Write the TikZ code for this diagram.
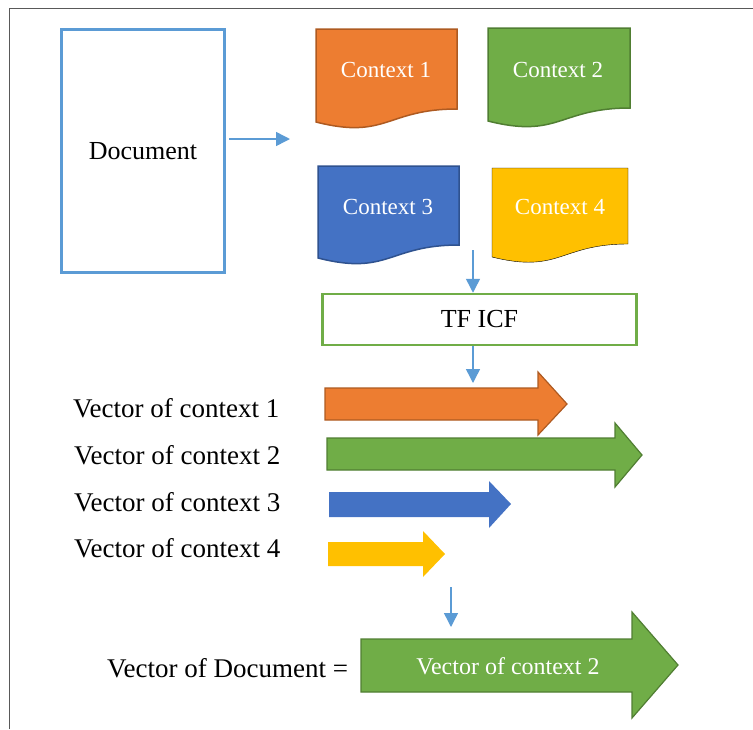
\documentclass[tikz,border=0pt]{standalone}
\usepackage{fontspec}
\setmainfont{Liberation Serif}
\usetikzlibrary{arrows.meta}
\definecolor{flowblue}{HTML}{5B9BD5}
\definecolor{orangefill}{HTML}{ED7D31}
\definecolor{orangeline}{HTML}{AE5A21}
\definecolor{greenfill}{HTML}{70AD47}
\definecolor{greenline}{HTML}{507E32}
\definecolor{bluefill}{HTML}{4472C4}
\definecolor{blueline}{HTML}{2F528F}
\definecolor{goldfill}{HTML}{FFC000}

\begin{document}
\begin{tikzpicture}[x=1pt,y=-1pt,
	blacktext/.style={inner sep=0pt,font=\fontsize{27}{31}\selectfont},
	whitetext/.style={inner sep=0pt,text=white,font=\fontsize{23}{27}\selectfont},
	flow/.style={draw=flowblue,line width=1.5pt,-{Triangle[length=14pt,width=14pt]}},
	orangeshape/.style={fill=orangefill,draw=orangeline,line width=1.5pt},
	greenshape/.style={fill=greenfill,draw=greenline,line width=1.5pt},
	blueshape/.style={fill=bluefill,draw=blueline,line width=1.5pt},
	goldshape/.style={fill=goldfill},
	vecgreen/.style={fill=greenfill,draw=greenline,line width=1.2pt},
	vecorange/.style={fill=orangefill,draw=orangeline,line width=1.2pt}]
\useasboundingbox (0,0) rectangle (753,729);
\draw[black!65,line width=0.8pt] (9,729) -- (9,8) -- (753,8);

\node[draw=flowblue,line width=3pt,minimum width=163pt,minimum height=243pt,
	font=\fontsize{26}{30}\selectfont] (doc) at (143,151) {Document};

\draw[orangeshape] (316,29) -- (457,29) -- (457,109)
	.. controls (386.5,109) and (386.5,140) .. (316,122) -- cycle;
\draw[greenshape] (488,28) -- (630,28) -- (630,108)
	.. controls (559,108) and (559,139) .. (488,121) -- cycle;
\draw[blueshape] (318,166) -- (459,166) -- (459,245)
	.. controls (388.5,245) and (388.5,276) .. (318,258) -- cycle;
\draw[goldshape] (492,168) -- (628,168) -- (628,244)
	.. controls (560,244) and (560,274) .. (492,257) -- cycle;
\node[whitetext] (ctx1) at (386,70) {Context 1};
\node[whitetext] (ctx2) at (558,70) {Context 2};
\node[whitetext] (ctx3) at (388,207) {Context 3};
\node[whitetext] (ctx4) at (560,207) {Context 4};

\node[draw=greenfill,line width=2.5pt,minimum width=314pt,minimum height=51pt,
	font=\fontsize{26}{30}\selectfont] (tf) at (479.5,319.5) {TF ICF};

\fill[vecorange] (325,388) -- (538,388) -- (538,372) -- (567,404)
	-- (538,435) -- (538,420) -- (325,420) -- cycle;
\fill[vecgreen] (327,438) -- (615,438) -- (615,423) -- (642,455)
	-- (615,487) -- (615,470) -- (327,470) -- cycle;
\fill[bluefill] (329,492) -- (489,492) -- (489,481) -- (511,504)
	-- (489,528) -- (489,517) -- (329,517) -- cycle;
\fill[goldfill] (328,542) -- (423,542) -- (423,531) -- (445,554)
	-- (423,577) -- (423,566) -- (328,566) -- cycle;

\node[blacktext,anchor=west] (vec1) at (73,408) {Vector of context 1};
\node[blacktext,anchor=west] (vec2) at (74,455) {Vector of context 2};
\node[blacktext,anchor=west] (vec3) at (74,502) {Vector of context 3};
\node[blacktext,anchor=west] (vec4) at (74,548) {Vector of context 4};

\fill[vecgreen] (361,639) -- (632,639) -- (632,612) -- (678,665)
	-- (632,718) -- (632,692) -- (361,692) -- cycle;
\node[whitetext,font=\fontsize{24}{28}\selectfont] (result) at (508,666) {Vector of context 2};
\node[blacktext,anchor=west] (docvec) at (107,668) {Vector of Document =};

\coordinate (docout) at (229,139);
\coordinate (ctxin) at (290,139);
\coordinate (ctxout) at (473,250);
\coordinate (vecin) at (473,383);
\coordinate (vecout) at (451,587);
\coordinate (resultin) at (451,627);

\draw[flow] (docout) -- (ctxin);
\draw[flow] (ctxout) -- (ctxout |- tf.north);
\draw[flow] (ctxout |- tf.south) -- (vecin);
\draw[flow] (vecout) -- (resultin);
\end{tikzpicture}
\end{document}
